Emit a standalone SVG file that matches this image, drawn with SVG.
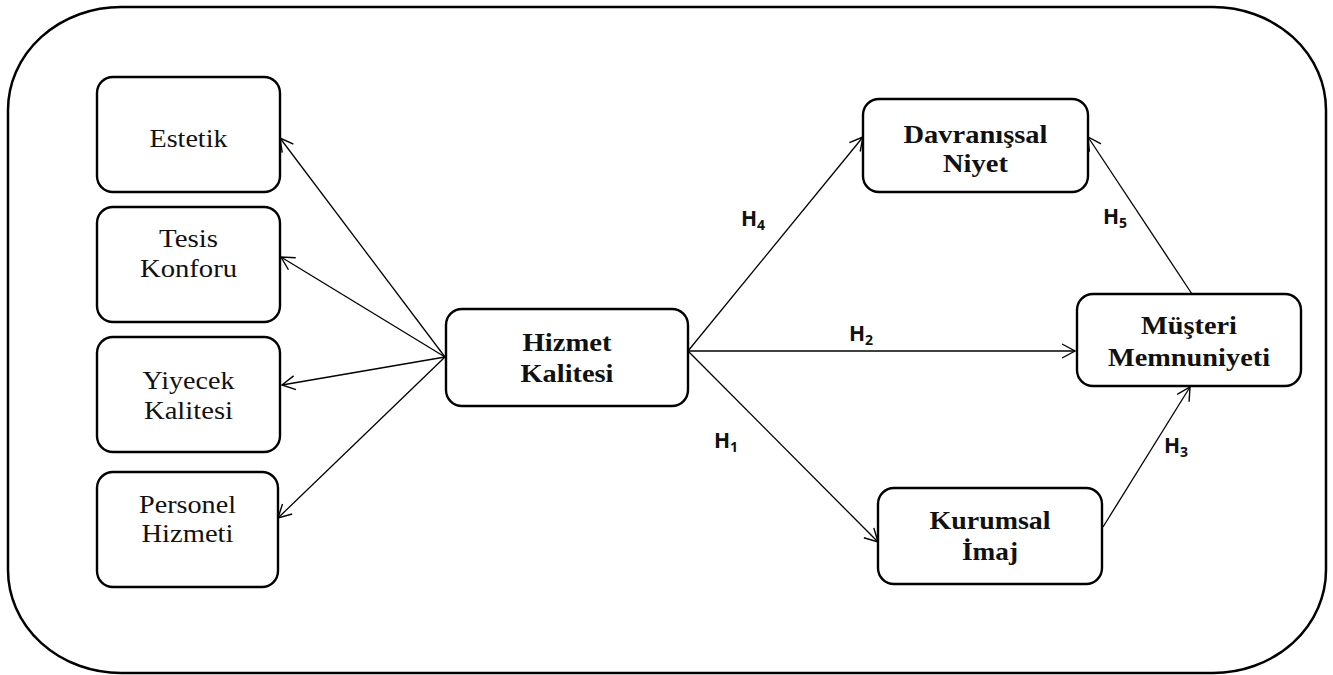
<svg xmlns="http://www.w3.org/2000/svg" width="1333" height="675" viewBox="0 0 1333 675">
<defs>
<marker id="arr" markerUnits="userSpaceOnUse" markerWidth="20" markerHeight="20" viewBox="0 0 20 20" refX="15" refY="10" orient="auto">
<path d="M2,3 L15,10 L2,17" fill="none" stroke="#000" stroke-width="1.4"/>
</marker>
</defs>
<style>
.frame{fill:#fff;stroke:#000;stroke-width:2.5}
.box{fill:#fff;stroke:#000;stroke-width:2.4}
.t{font-family:"Liberation Serif","Times New Roman",serif;font-size:26px;fill:#111;text-anchor:middle}
.b{font-weight:bold}
.h{font-family:"Open Sans","Liberation Sans",Arial,sans-serif;font-weight:bold;font-size:21px;fill:#111}
.sub{font-size:14px}
.c{fill:none;stroke:#000;stroke-width:1.3;marker-end:url(#arr)}
</style>
<rect width="1333" height="675" fill="#fff"/>
<rect class="frame" x="8" y="7" width="1318" height="666" rx="113" ry="103"/>

<g id="connectors">
<line class="c" x1="445" y1="357" x2="280" y2="138"/>
<line class="c" x1="445" y1="357" x2="281" y2="257"/>
<line class="c" x1="445" y1="357" x2="282" y2="385"/>
<line class="c" x1="445" y1="357" x2="278" y2="518"/>
<line class="c" x1="688" y1="351" x2="863" y2="137"/>
<line class="c" x1="688" y1="351" x2="1075" y2="351"/>
<line class="c" x1="688" y1="351" x2="878" y2="542"/>
<line class="c" x1="1103" y1="527" x2="1190" y2="387"/>
<line class="c" x1="1192" y1="294" x2="1088" y2="137"/>
<text class="h" x="741" y="226">H<tspan class="sub" dy="4">4</tspan></text>
<text class="h" x="849" y="341">H<tspan class="sub" dy="4">2</tspan></text>
<text class="h" x="714" y="448">H<tspan class="sub" dy="4">1</tspan></text>
<text class="h" x="1164" y="453">H<tspan class="sub" dy="4">3</tspan></text>
<text class="h" x="1103" y="224">H<tspan class="sub" dy="4">5</tspan></text>
</g>

<g id="estetik">
<rect class="box" x="97" y="77" width="183" height="115" rx="16"/>
<text class="t" x="188.5" y="147" textLength="78" lengthAdjust="spacingAndGlyphs">Estetik</text>
</g>
<g id="tesis">
<rect class="box" x="97" y="207" width="183" height="115" rx="16"/>
<text class="t" x="188.5" y="247" textLength="59" lengthAdjust="spacingAndGlyphs">Tesis</text>
<text class="t" x="188.5" y="277" textLength="97" lengthAdjust="spacingAndGlyphs">Konforu</text>
</g>
<g id="yiyecek">
<rect class="box" x="97" y="337" width="183" height="115" rx="16"/>
<text class="t" x="188.5" y="389" textLength="92" lengthAdjust="spacingAndGlyphs">Yiyecek</text>
<text class="t" x="188.5" y="419" textLength="89" lengthAdjust="spacingAndGlyphs">Kalitesi</text>
</g>
<g id="personel">
<rect class="box" x="97" y="472" width="181" height="115" rx="16"/>
<text class="t" x="187.5" y="513" textLength="97" lengthAdjust="spacingAndGlyphs">Personel</text>
<text class="t" x="187.5" y="542" textLength="92" lengthAdjust="spacingAndGlyphs">Hizmeti</text>
</g>
<g id="hizmet">
<rect class="box" x="446" y="309" width="242" height="97" rx="16"/>
<text class="t b" x="567" y="351" textLength="89" lengthAdjust="spacingAndGlyphs">Hizmet</text>
<text class="t b" x="567" y="382" textLength="93" lengthAdjust="spacingAndGlyphs">Kalitesi</text>
</g>
<g id="davranissal">
<rect class="box" x="863" y="99" width="225" height="93" rx="16"/>
<text class="t b" x="975.5" y="143" textLength="144" lengthAdjust="spacingAndGlyphs">Davranışsal</text>
<text class="t b" x="975.5" y="172" textLength="65" lengthAdjust="spacingAndGlyphs">Niyet</text>
</g>
<g id="musteri">
<rect class="box" x="1077" y="294" width="224" height="92" rx="16"/>
<text class="t b" x="1189" y="334" textLength="96" lengthAdjust="spacingAndGlyphs">Müşteri</text>
<text class="t b" x="1189" y="366" textLength="162" lengthAdjust="spacingAndGlyphs">Memnuniyeti</text>
</g>
<g id="kurumsal">
<rect class="box" x="878" y="488" width="224" height="96" rx="16"/>
<text class="t b" x="990" y="529" textLength="121" lengthAdjust="spacingAndGlyphs">Kurumsal</text>
<text class="t b" x="990" y="560" textLength="56" lengthAdjust="spacingAndGlyphs">İmaj</text>
</g>
</svg>
